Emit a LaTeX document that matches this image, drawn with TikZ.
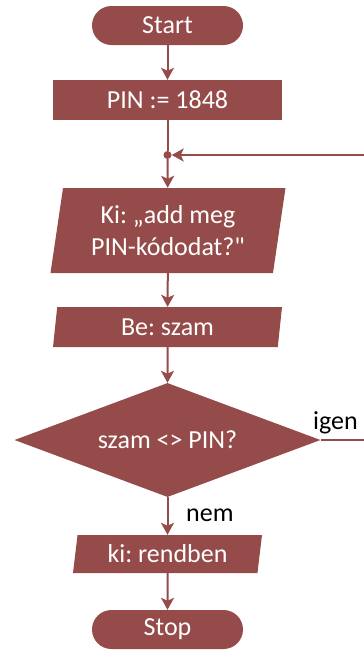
\documentclass[tikz,border=0pt]{standalone}
\usepackage{fontspec}
\newfontfamily\carlito{Carlito}
\usetikzlibrary{arrows.meta,shapes.geometric}
\frenchspacing

\definecolor{blokk}{RGB}{149,75,74}

\tikzset{
  elem/.style={fill=blokk, text=white, inner sep=0pt, align=center,
    font=\carlito\fontsize{26}{32}\selectfont},
  hatar/.style={elem, rectangle, rounded corners=19.5pt, minimum width=151pt, minimum height=39pt},
  muvelet/.style={elem, rectangle, minimum width=229pt, minimum height=40pt},
  io/.style={elem, trapezium, trapezium left angle=76, trapezium right angle=104,
    trapezium stretches body},
  dontes/.style={elem, diamond, shape aspect=2.68, minimum width=306pt, minimum height=114pt},
  vonal/.style={draw=blokk, line width=2pt},
  nyil/.style={vonal, -{Stealth[length=12pt,width=13pt,inset=3pt]}},
  felirat/.style={inner sep=0pt, font=\carlito\fontsize{26}{32}\selectfont}
}

\begin{document}
\begin{tikzpicture}[x=1pt,y=1pt]
\useasboundingbox (0,0) rectangle (364,-651);
\clip (0,0) rectangle (364,-651);

\node[hatar] (start) at (167.5,-25.5) {Start};
\node[muvelet] (pin) at (167.5,-100) {PIN := 1848};
\node[circle, fill=blokk, minimum size=8pt, inner sep=0pt] (join) at (167.5,-155) {};
\node[io, minimum width=235pt, minimum height=85pt] (ki) at (168,-230.5) {Ki: „add meg\\PIN-kódodat?"};
\node[io, minimum width=229pt, minimum height=40pt] (be) at (167.5,-327) {Be: szam};
\node[dontes] (cond) at (167.5,-440) {szam <> PIN?};
\node[io, minimum width=189pt, minimum height=38pt] (ok) at (167.5,-554) {ki: rendben};
\node[hatar] (stop) at (167.5,-629.5) {Stop};

% visszacsatolas a jobb szelen
\coordinate (jobb) at (390,0);

\draw[nyil] (start) -- (pin);
\draw[vonal] (pin) -- (join);
\draw[nyil] (join) -- (ki);
\draw[nyil] (ki) -- (be);
\draw[nyil] (be) -- (cond);
\draw[nyil] (cond) -- (ok);
\draw[nyil] (ok) -- (stop);
\draw[nyil] (cond.east) -- (jobb |- cond) -- (jobb |- join) -- (join);

\node[felirat, anchor=base west] (igen) at (313,-429) {igen};
\node[felirat, anchor=base west] (nem) at (186,-521) {nem};

\end{tikzpicture}
\end{document}
